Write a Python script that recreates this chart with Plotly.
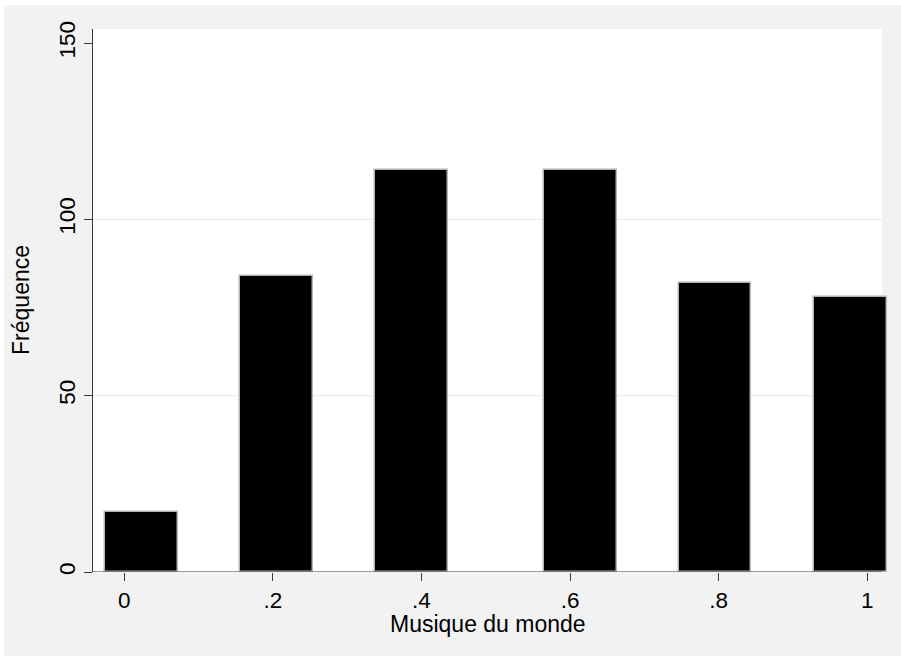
import plotly.graph_objects as go

# Data (Stata-style histogram)
bin_centers = [0.0227, 0.2047, 0.3863, 0.6137, 0.7951, 0.9775]
frequencies = [17, 84, 114, 114, 82, 78]
bar_width = 0.098
x_tick_vals = [0, 0.2, 0.4, 0.6, 0.8, 1]
x_tick_text = ["0", ".2", ".4", ".6", ".8", "1"]
y_tick_vals = [0, 50, 100, 150]
y_tick_text = ["0", "50", "100", "150"]
x_title = "Musique du monde"
y_title = "Fréquence"

FONT = "Liberation Sans, Arial, Helvetica, sans-serif"
BG = "#f2f2f2"
AX = "#3a3a3a"

x_min, x_max, x_white = -0.0421, 1.0265, 1.0198
y_max = 154.0

fig = go.Figure()
fig.add_trace(go.Bar(
    x=bin_centers, y=frequencies, width=[bar_width] * len(bin_centers),
    marker=dict(color="black", line=dict(color="#b4b4b4", width=1.5)),
    showlegend=False, hoverinfo="x+y",
))

shapes = [
    # thin white frame at top and left of the outer gray region
    dict(type="rect", xref="paper", yref="paper", x0=-0.2, x1=1.1, y0=1.0442, y1=1.1,
         fillcolor="white", line=dict(width=0), layer="below"),
    dict(type="rect", xref="paper", yref="paper", x0=-0.2, x1=-0.1121, y0=-0.3, y1=1.1,
         fillcolor="white", line=dict(width=0), layer="below"),
    # white plot region
    dict(type="rect", xref="x", yref="paper", x0=x_min, x1=x_white, y0=0, y1=1,
         fillcolor="white", line=dict(width=0), layer="below"),
    # x axis line
    dict(type="line", xref="x", yref="y", x0=x_min, x1=x_white, y0=0, y1=0,
         line=dict(color=AX, width=1.2), layer="above"),
]
for yv in y_tick_vals[1:-1]:
    shapes.append(dict(type="line", xref="x", yref="y", x0=x_min, x1=x_white, y0=yv, y1=yv,
                       line=dict(color="#ececec", width=1.2), layer="below"))

annotations = [
    dict(text=x_title, xref="paper", yref="paper", x=0.498, y=-0.0957,
         xanchor="center", yanchor="middle", showarrow=False, font=dict(size=23)),
    dict(text=y_title, xref="paper", yref="paper", x=-0.0907, y=0.501, textangle=-90,
         xanchor="center", yanchor="middle", showarrow=False, font=dict(size=23)),
]

fig.update_layout(
    width=901, height=656,
    margin=dict(l=93, r=14, t=29, b=84),
    paper_bgcolor=BG, plot_bgcolor="rgba(0,0,0,0)",
    font=dict(family=FONT, size=22.5, color="black"),
    shapes=shapes,
    annotations=annotations,
    bargap=0,
    xaxis=dict(
        range=[x_min, x_max], tickmode="array", tickvals=x_tick_vals, ticktext=x_tick_text,
        ticks="outside", ticklen=8, tickcolor=AX, tickwidth=1.2,
        showgrid=False, zeroline=False, showline=False,
        tickfont=dict(size=22.5),
    ),
    yaxis=dict(
        range=[0, y_max], tickmode="array", tickvals=y_tick_vals, ticktext=y_tick_text,
        ticks="outside", ticklen=8, tickcolor=AX, tickwidth=1.2, tickangle=-90,
        showgrid=False, zeroline=False, showline=True, linecolor=AX, linewidth=1.2,
        tickfont=dict(size=22.5),
    ),
)

fig.write_html("out.html", config={"displayModeBar": False},
               post_script="document.body.style.margin='0';document.body.style.padding='0';"
                           "document.body.style.background='" + BG + "';")
